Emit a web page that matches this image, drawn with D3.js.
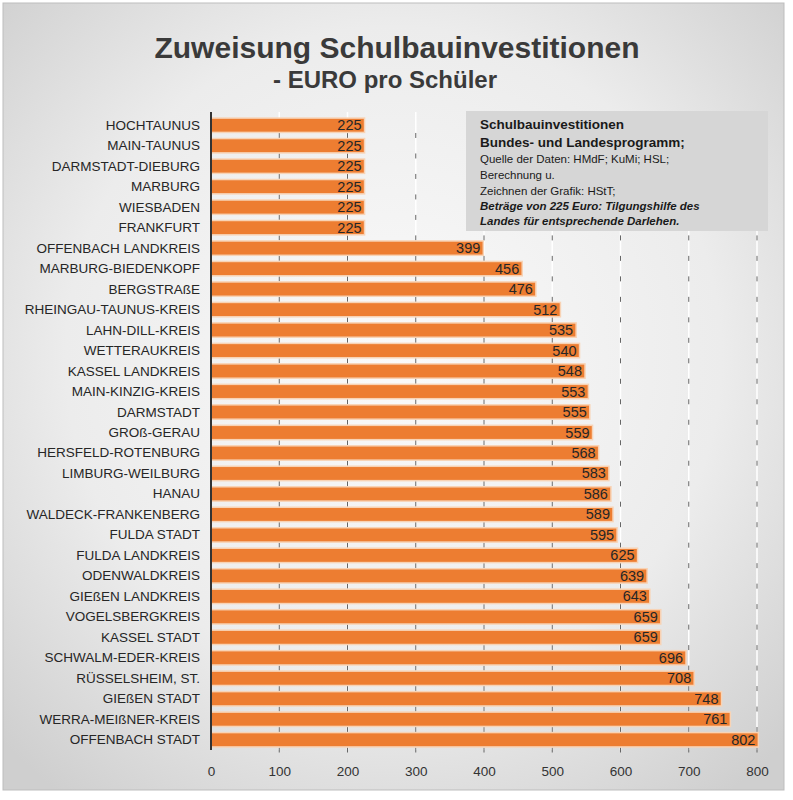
<!DOCTYPE html>
<html><head><meta charset="utf-8">
<script src="https://cdn.jsdelivr.net/npm/d3@7"></script>
<style>body{margin:0;background:#fff;font-family:"Liberation Sans",Arial,sans-serif}</style>
</head><body><svg id="chart" width="793" height="800"></svg>
<script>
const categories = ["HOCHTAUNUS","MAIN-TAUNUS","DARMSTADT-DIEBURG","MARBURG","WIESBADEN","FRANKFURT",
  "OFFENBACH LANDKREIS","MARBURG-BIEDENKOPF","BERGSTRAßE","RHEINGAU-TAUNUS-KREIS","LAHN-DILL-KREIS",
  "WETTERAUKREIS","KASSEL LANDKREIS","MAIN-KINZIG-KREIS","DARMSTADT","GROß-GERAU","HERSFELD-ROTENBURG",
  "LIMBURG-WEILBURG","HANAU","WALDECK-FRANKENBERG","FULDA STADT","FULDA LANDKREIS","ODENWALDKREIS",
  "GIEßEN LANDKREIS","VOGELSBERGKREIS","KASSEL STADT","SCHWALM-EDER-KREIS","RÜSSELSHEIM, ST.",
  "GIEßEN STADT","WERRA-MEIßNER-KREIS","OFFENBACH STADT"];
const values = [225,225,225,225,225,225,399,456,476,512,535,540,548,553,555,559,568,583,586,589,595,625,639,643,659,659,696,708,748,761,802];
const xTicks = [0,100,200,300,400,500,600,700,800];
const noteLines = [
  {t:"Schulbauinvestitionen", s:13.5, b:true},
  {t:"Bundes- und Landesprogramm;", s:13.5, b:true},
  {t:"Quelle der Daten: HMdF; KuMi; HSL;", s:11.5},
  {t:"Berechnung u.", s:11.5},
  {t:"Zeichnen der Grafik: HStT;", s:11.5},
  {t:"Beträge von 225 Euro: Tilgungshilfe des", s:11.5, b:true, i:true},
  {t:"Landes für entsprechende Darlehen.", s:11.5, b:true, i:true}
];

const svg = d3.select("#chart");
const defs = svg.append("defs");
const grad = defs.append("radialGradient").attr("id","bg").attr("cx","50%").attr("cy","45%").attr("r","70%");
grad.append("stop").attr("offset","0%").attr("stop-color","#fafafa");
grad.append("stop").attr("offset","60%").attr("stop-color","#ececec");
grad.append("stop").attr("offset","100%").attr("stop-color","#cfcfcf");
svg.append("rect").attr("x",3).attr("y",3).attr("width",781).attr("height",787)
  .attr("fill","url(#bg)").attr("stroke","#bdbdbd");

// Title
svg.append("text").attr("x",397).attr("y",58).attr("text-anchor","middle")
  .attr("font-size",30).attr("font-weight","bold").attr("fill","#3a3a3a").text("Zuweisung Schulbauinvestitionen");
svg.append("text").attr("x",385).attr("y",88).attr("text-anchor","middle")
  .attr("font-size",24).attr("font-weight","bold").attr("fill","#3a3a3a").text("- EURO pro Schüler");

const x = d3.scaleLinear().domain([0,800]).range([211,757]);
const y = d3.scaleBand().domain(categories).range([115,750]).paddingInner(0.3).paddingOuter(0.15);

// Grid
svg.append("g").selectAll("line").data(xTicks.slice(1)).join("line")
  .attr("x1",d=>x(d)).attr("x2",d=>x(d)).attr("y1",112).attr("y2",750)
  .attr("stroke","#ffffff").attr("stroke-width",1.5);
// small tick marks in the gaps between bars
const gaps = categories.slice(1).map(c => y(c) - y.step()*y.paddingInner()/2);
gaps.push(750);
const tickData = [];
xTicks.slice(1).forEach(t => gaps.forEach(g => tickData.push([t,g])));
svg.append("g").selectAll("line").data(tickData).join("line")
  .attr("x1",d=>x(d[0])).attr("x2",d=>x(d[0])).attr("y1",d=>d[1]-2.5).attr("y2",d=>d[1]+2.5)
  .attr("stroke","#666").attr("stroke-width",1);

// Bars
svg.append("g").selectAll("rect").data(values).join("rect")
  .attr("x",x(0)).attr("y",(d,i)=>y(categories[i]))
  .attr("width",d=>x(d)-x(0)).attr("height",y.bandwidth())
  .attr("fill","#ed7d31").attr("stroke","#f8d3b5").attr("stroke-width",1.5);

svg.append("g").selectAll("text").data(values).join("text")
  .attr("x",d=>x(d)-3).attr("y",(d,i)=>y(categories[i])+y.bandwidth()/2+5)
  .attr("text-anchor","end").attr("font-size",14.5).attr("fill","#262626").text(d=>d);

svg.append("g").selectAll("text").data(categories).join("text")
  .attr("x",200).attr("y",d=>y(d)+y.bandwidth()/2+4.5)
  .attr("text-anchor","end").attr("font-size",13.5).attr("fill","#262626").text(d=>d);

svg.append("line").attr("x1",x(0)).attr("x2",x(0)).attr("y1",112).attr("y2",750)
  .attr("stroke","#333").attr("stroke-width",2);

const axis = svg.append("g").attr("transform","translate(0,750)")
  .call(d3.axisBottom(x).tickValues(xTicks).tickSize(0).tickPadding(16));
axis.select(".domain").remove();
axis.selectAll("text").attr("font-size",13.5).attr("fill","#333").attr("font-family","Liberation Sans, Arial, sans-serif");

// Note box
const note = svg.append("g");
note.append("rect").attr("x",466).attr("y",111).attr("width",302).attr("height",120).attr("fill","#d6d6d6");
note.selectAll("text").data(noteLines).join("text")
  .attr("x",480).attr("y",(d,i)=>[131,149,165,181,197,212,227][i]-2)
  .attr("font-size",d=>d.s).attr("font-weight",d=>d.b?"bold":"normal")
  .attr("font-style",d=>d.i?"italic":"normal").attr("fill","#1a1a1a").text(d=>d.t);
</script></body></html>
